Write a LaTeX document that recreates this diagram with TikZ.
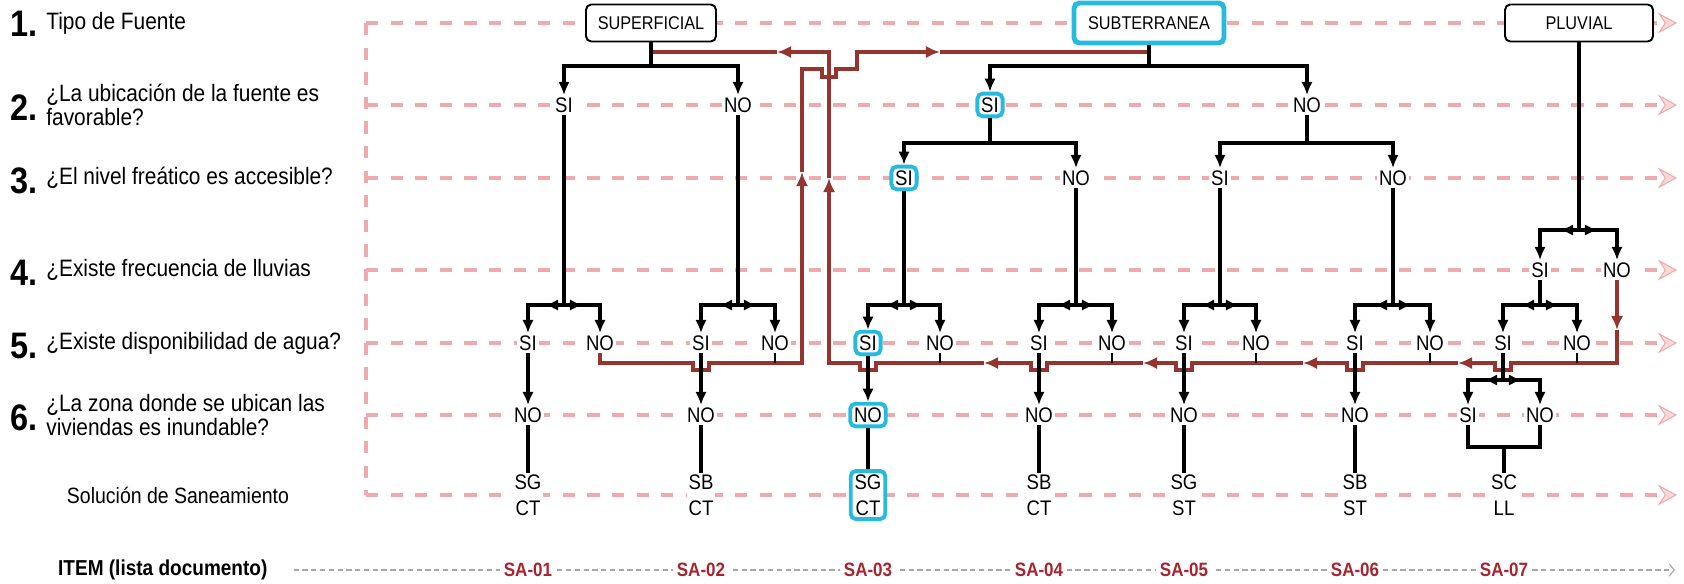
\documentclass[tikz,border=0pt]{standalone}
\usepackage{fontspec}
\setmainfont{Liberation Sans}[FakeStretch=0.88]
\usepackage{xcolor}
\usepackage{tikz}
\usetikzlibrary{arrows.meta,positioning,calc}

\definecolor{gridpink}{RGB}{238,170,172}
\definecolor{flowred}{RGB}{150,52,48}
\definecolor{hlcyan}{RGB}{38,186,222}
\definecolor{itemred}{RGB}{168,36,48}

\begin{document}
\begin{tikzpicture}[
    x=0.02cm, y=-0.02cm,
    >={Latex[length=7.5pt,width=6.5pt]},
    srcbox/.style={draw,rounded corners=3pt,line width=1.1pt,fill=white,minimum height=0.74cm,inner sep=2pt,font=\fontsize{10.5}{12}\selectfont},
    yn/.style={fill=white,inner sep=1.2pt,font=\fontsize{12}{14}\selectfont},
    hl/.style={draw=hlcyan,line width=2.2pt,rounded corners=3pt,inner sep=2.2pt},
    sol/.style={fill=white,inner sep=1pt,align=center,font=\fontsize{12}{14.5}\selectfont},
    conn/.style={line width=2pt},
    tick/.style={line width=1.1pt},
    flow/.style={draw=flowred,line width=2pt,>={Latex[length=8pt,width=7pt]}},
    row/.style={draw=gridpink,line width=2pt,dash pattern=on 7pt off 7pt,
        -{Stealth[length=11pt,width=12pt,inset=4pt,line width=0.6pt,fill=gridpink!45]}},
    qnum/.style={anchor=east,inner sep=0pt,font=\bfseries\fontsize{21}{21}\selectfont},
    qtxt/.style={anchor=west,align=left,inner sep=0pt,font=\fontsize{13.5}{13.5}\selectfont},
    salabel/.style={fill=white,text=itemred,inner sep=2pt,font=\bfseries\fontsize{11}{12}\selectfont},
    itemline/.style={draw=gray!70,line width=0.6pt,dash pattern=on 3pt off 2pt,-{Straight Barb[length=3pt,width=7pt]}},
]
\useasboundingbox (0,0) rectangle (1684,583);

% guide rows
\foreach \yy in {23,105,178,270,343,415,495}
    \draw[row] (366,\yy) -- (1677,\yy);
\draw[row,-] (366,23) -- (366,495);

% questions
\node[qnum] (n1) at (38,24) {1.};
\node[qtxt] (q1) at (46,23) {Tipo de Fuente};
\node[qnum] (n2) at (38,108) {2.};
\node[qtxt] (q2) at (46,105) {¿La ubicación de la fuente es\\favorable?};
\node[qnum] (n3) at (38,181) {3.};
\node[qtxt] (q3) at (46,178) {¿El nivel freático es accesible?};
\node[qnum] (n4) at (38,273) {4.};
\node[qtxt] (q4) at (46,270) {¿Existe frecuencia de lluvias};
\node[qnum] (n5) at (38,346) {5.};
\node[qtxt] (q5) at (46,343) {¿Existe disponibilidad de agua?};
\node[qnum] (n6) at (38,418) {6.};
\node[qtxt] (q6) at (46,415) {¿La zona donde se ubican las\\viviendas es inundable?};
\node[font=\fontsize{12.6}{14}\selectfont] (solt) at (178,495) {Solución de Saneamiento};
\node[anchor=west,font=\bfseries\fontsize{12.3}{14}\selectfont] (item) at (52,570) {ITEM (lista documento)};
\coordinate (itemend) at (1675,570);
\draw[itemline] ([xshift=0.4cm]item.east) -- (itemend);

% sources
\node[srcbox,minimum width=2.6cm] (sup) at (651,23) {SUPERFICIAL};
\node[srcbox,draw=hlcyan,line width=2.8pt,minimum width=3.0cm,minimum height=0.8cm] (sub) at (1149,23) {SUBTERRANEA};
\node[srcbox,minimum width=2.96cm] (plu) at (1579,23) {PLUVIAL};

% answers
\node[yn] (s2-si) at (564,105) {SI};
\node[yn] (s2-no) at (738,105) {NO};
\node[yn,hl] (t2-si) at (990,105) {SI};
\node[yn] (t2-no) at (1307,105) {NO};

\node[yn,hl] (t3-si) at (904,178) {SI};
\node[yn] (t3-no) at (1076,178) {NO};
\node[yn] (t3b-si) at (1220,178) {SI};
\node[yn] (t3b-no) at (1393,178) {NO};

\node[yn] (p4-si) at (1540,270) {SI};
\node[yn] (p4-no) at (1617,270) {NO};

\node[yn] (g1-si) at (528,343) {SI};
\node[yn] (g1-no) at (600,343) {NO};
\node[yn] (g2-si) at (701,343) {SI};
\node[yn] (g2-no) at (775,343) {NO};
\node[yn,hl] (g3-si) at (868,343) {SI};
\node[yn] (g3-no) at (940,343) {NO};
\node[yn] (g4-si) at (1039,343) {SI};
\node[yn] (g4-no) at (1112,343) {NO};
\node[yn] (g5-si) at (1184,343) {SI};
\node[yn] (g5-no) at (1256,343) {NO};
\node[yn] (g6-si) at (1355,343) {SI};
\node[yn] (g6-no) at (1430,343) {NO};
\node[yn] (g7-si) at (1503,343) {SI};
\node[yn] (g7-no) at (1577,343) {NO};

\node[yn] (i1-no) at (528,415) {NO};
\node[yn] (i2-no) at (701,415) {NO};
\node[yn,hl] (i3-no) at (868,415) {NO};
\node[yn] (i4-no) at (1039,415) {NO};
\node[yn] (i5-no) at (1184,415) {NO};
\node[yn] (i6-no) at (1355,415) {NO};
\node[yn] (i7-si) at (1468,415) {SI};
\node[yn] (i7-no) at (1540,415) {NO};

% solutions and items
\node[sol] (sol1) at (528,495) {SG\\CT};
\node[sol] (sol2) at (701,495) {SB\\CT};
\node[sol,hl] (sol3) at (868,495) {SG\\CT};
\node[sol] (sol4) at (1039,495) {SB\\CT};
\node[sol] (sol5) at (1184,495) {SG\\ST};
\node[sol] (sol6) at (1355,495) {SB\\ST};
\node[sol] (sol7) at (1504,495) {SC\\LL};

\node[salabel] (sa1) at (528,570) {SA-01};
\node[salabel] (sa2) at (701,570) {SA-02};
\node[salabel] (sa3) at (868,570) {SA-03};
\node[salabel] (sa4) at (1039,570) {SA-04};
\node[salabel] (sa5) at (1184,570) {SA-05};
\node[salabel] (sa6) at (1355,570) {SA-06};
\node[salabel] (sa7) at (1504,570) {SA-07};

% no water: superficial -> subterranea
\draw[flow] (g1-no) -- (g1-no |- 0,363) -- (693,363) -- (693,370) -- (709,370) -- (709,363) -- (802,363) -- (802,190);
\draw[flow,->] (802,190) -- (802,172);
\draw[flow,->] (802,172) -- (802,69) -- (822,69) -- (822,77) -- (836,77) -- (836,69) -- (857,69) -- (857,52) -- (940,52);
\draw[flow] (940,52) -- (sub |- 0,52);

% no water: subterranea / pluvial -> superficial
\draw[flow,->] (p4-no) -- (p4-no |- 0,330);
\draw[flow,->] (p4-no |- 0,330) -- (p4-no |- 0,363) -- (1511,363) -- (1511,370) -- (1495,370) -- (1495,363) -- (1458,363);
\draw[flow,->] (1458,363) -- (1363,363) -- (1363,370) -- (1347,370) -- (1347,363) -- (1303,363);
\draw[flow,->] (1303,363) -- (1192,363) -- (1192,370) -- (1176,370) -- (1176,363) -- (1143,363);
\draw[flow,->] (1143,363) -- (1047,363) -- (1047,370) -- (1031,370) -- (1031,363) -- (984,363);
\draw[flow,->] (984,363) -- (876,363) -- (876,370) -- (860,370) -- (860,363) -- (829,363) -- (829,178);
\draw[flow,->] (829,178) -- (829,52) -- (777,52);
\draw[flow] (777,52) -- (sup |- 0,52);

\foreach \gi in {2,...,7}
    \draw[tick] (g\gi-no) -- (g\gi-no |- 0,363);

% tree
\draw[conn] (sup) -- (sup |- 0,66) coordinate (ms);
\draw[conn,->] (ms) -| (s2-si);
\draw[conn,->] (ms) -| (s2-no);
\draw[conn] (sub) -- (sub |- 0,66) coordinate (mt);
\draw[conn,->] (mt) -| (t2-si);
\draw[conn,->] (mt) -| (t2-no);
\draw[conn] (t2-si) -- (t2-si |- 0,143) coordinate (mt1);
\draw[conn,->] (mt1) -| (t3-si);
\draw[conn,->] (mt1) -| (t3-no);
\draw[conn] (t2-no) -- (t2-no |- 0,143) coordinate (mt2);
\draw[conn,->] (mt2) -| (t3b-si);
\draw[conn,->] (mt2) -| (t3b-no);
\draw[conn] (plu) -- (plu |- 0,230) coordinate (mp);
\draw[conn,->] (mp) -- ++(-19,0);
\draw[conn,->] (mp) -- ++(19,0);
\draw[conn,->] (mp) -| (p4-si);
\draw[conn,->] (mp) -| (p4-no);

\foreach \p/\gi in {s2-si/1,s2-no/2,t3-si/3,t3-no/4,t3b-si/5,t3b-no/6,p4-si/7} {
    \draw[conn] (\p) -- (\p |- 0,305) coordinate (m\gi);
    \draw[conn,->] (m\gi) -- ++(-19,0);
    \draw[conn,->] (m\gi) -- ++(19,0);
    \draw[conn,->] (m\gi) -| (g\gi-si);
    \draw[conn,->] (m\gi) -| (g\gi-no);
}

\foreach \gi in {1,...,6} {
    \draw[conn,->] (g\gi-si) -- (i\gi-no);
    \draw[conn] (i\gi-no) -- (sol\gi);
}

\draw[conn] (g7-si) -- (g7-si |- 0,380) coordinate (m8);
\draw[conn,->] (m8) -- ++(-19,0);
\draw[conn,->] (m8) -- ++(19,0);
\draw[conn,->] (m8) -| (i7-si);
\draw[conn,->] (m8) -| (i7-no);
\draw[conn] (i7-si) |- (sol7 |- 0,447) -| (i7-no);
\draw[conn] (sol7 |- 0,447) -- (sol7);
\end{tikzpicture}
\end{document}
